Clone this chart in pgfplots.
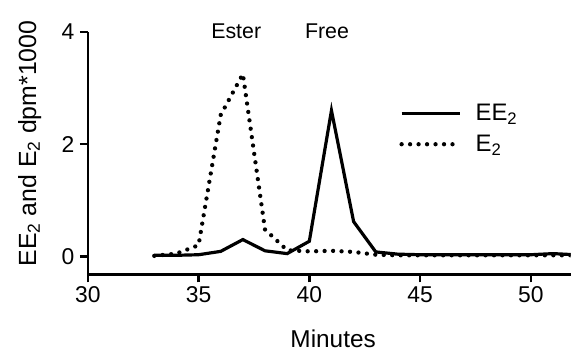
\documentclass[border=0pt]{standalone}
\usepackage{fontspec}
\setmainfont{Liberation Sans}
\usepackage{pgfplots}
\pgfplotsset{compat=1.18}
\begin{document}
\begin{tikzpicture}
\begin{axis}[
  name=ax,
  scale only axis,
  width=484bp, height=243bp,
  xmin=30, xmax=51.8,
  ymin=-0.32, ymax=4,
  axis x line=bottom, axis y line=left,
  axis line style={-, line width=2.6bp},
  xtick={30,35,40,45,50},
  ytick={0,2,4},
  tick align=outside,
  major tick length=8bp,
  tick style={line width=2.4bp, black},
  /pgf/number format/assume math mode=true,
  tick label style={font=\fontsize{23}{26}\selectfont},
  xticklabel style={yshift=-1bp},
  yticklabel style={xshift=-2bp},
  clip mode=individual,
  xlabel={Minutes},
  ylabel={EE\textsubscript{2} and E\textsubscript{2} dpm*1000},
  xlabel style={font=\fontsize{24.5}{28}\selectfont, at={(axis description cs:0.508,-0.300)}, anchor=base, inner sep=0pt},
  ylabel style={font=\fontsize{25}{28}\selectfont, at={(axis description cs:-0.107,0.54)}, anchor=base, rotate=0, inner sep=0pt},
  legend style={draw=none, fill=none, at={(axis description cs:0.645,0.71)}, anchor=north west,
    font=\fontsize{24}{28}\selectfont, row sep=9bp, inner sep=0pt,
    /tikz/every odd column/.append style={column sep=11bp}},
  legend cell align=left,
  legend image code/.code={\draw[#1] (0bp,0bp) -- (59bp,0bp);},
]
\addplot[black, line width=3.2bp, line join=miter] coordinates {
(33,0.02) (34,0.02) (35,0.03) (36,0.09) (37,0.30) (38,0.10) (39,0.05) (40,0.27) (41,2.60) (42,0.62) (43,0.08) (44,0.04) (45,0.03) (46,0.03) (47,0.03) (48,0.03) (49,0.03) (50,0.03) (51,0.05) (52,0.03)
};
\addlegendentry{EE\textsubscript{2}}
\addplot[black, line width=4.3bp, line cap=round, dash pattern=on 0bp off 8.5bp] coordinates {
(33,0.01) (34,0.05) (35,0.20) (36,2.52) (37,3.25) (38,0.48) (39,0.11) (40,0.09) (41,0.10) (42,0.08) (43,0.03) (44,0.02) (45,0.02) (46,0.02) (47,0.02) (48,0.02) (49,0.02) (50,0.02) (51,0.02) (52,0.02)
};
\addlegendentry{E\textsubscript{2}}
\node[anchor=base, font=\fontsize{21.5}{24}\selectfont, inner sep=0pt] at (axis cs:36.7,3.89) {Ester};
\node[anchor=base, font=\fontsize{21.5}{24}\selectfont, inner sep=0pt] at (axis cs:40.8,3.89) {Free};
\end{axis}
\path ([shift={(-88bp,-77bp)}]ax.south west) rectangle ([shift={(0bp,32bp)}]ax.north east);
\end{tikzpicture}
\end{document}
